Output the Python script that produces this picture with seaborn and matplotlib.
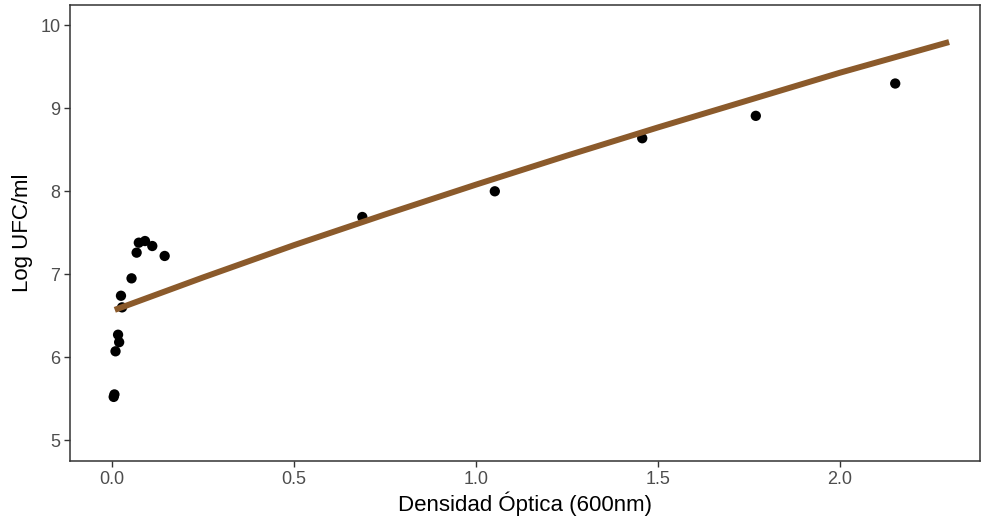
import matplotlib
matplotlib.use("Agg")
import matplotlib.pyplot as plt
import seaborn as sns
import pandas as pd

# measured points (OD600 vs log CFU/ml)
od = [0.005, 0.007, 0.010, 0.017, 0.020, 0.025, 0.028, 0.054, 0.068, 0.074,
      0.091, 0.111, 0.145, 0.688, 1.052, 1.457, 1.769, 2.152]
log_ufc = [5.52, 5.55, 6.07, 6.27, 6.18, 6.74, 6.60, 6.95, 7.26, 7.38,
           7.40, 7.34, 7.22, 7.69, 8.00, 8.64, 8.91, 9.30]

# fitted curve
fit_x = [0.008, 0.25, 0.5, 0.75, 1.0, 1.25, 1.5, 1.75, 2.0, 2.30]
fit_y = [6.57, 6.96, 7.35, 7.72, 8.08, 8.43, 8.77, 9.10, 9.43, 9.80]

df = pd.DataFrame({"od": od, "log": log_ufc})
fit = pd.DataFrame({"od": fit_x, "log": fit_y})

sns.set_theme(style="white")
plt.rcParams["font.family"] = ["Liberation Sans", "DejaVu Sans"]

fig = plt.figure(figsize=(9.82, 5.16), dpi=100)
ax = fig.add_axes([0.0713, 0.1066, 0.9267, 0.8834])

# points first, the fitted line sits on top of them
sns.scatterplot(data=df, x="od", y="log", color="black", s=55, edgecolor="none",
                ax=ax, zorder=2)
sns.lineplot(data=fit, x="od", y="log", color="#8B5A2B", linewidth=4.3, ax=ax,
             zorder=3, solid_capstyle="butt")

ax.set_xlim(-0.115, 2.385)
ax.set_ylim(4.747, 10.245)
ax.set_xticks([0.0, 0.5, 1.0, 1.5, 2.0])
ax.set_xticklabels(["0.0", "0.5", "1.0", "1.5", "2.0"])
ax.set_yticks([5, 6, 7, 8, 9, 10])

ax.set_xlabel("Densidad Óptica (600nm)", fontsize=16, color="black", labelpad=3)
ax.set_ylabel("Log UFC/ml", fontsize=16, color="black", labelpad=5)
ax.tick_params(axis="both", length=4, width=1, color="#333333",
               labelsize=13, labelcolor="#4D4D4D", pad=3, bottom=True, left=True)

for s in ax.spines.values():
    s.set_color("#333333")
    s.set_linewidth(1.1)

fig.savefig("out.png", dpi=100)
